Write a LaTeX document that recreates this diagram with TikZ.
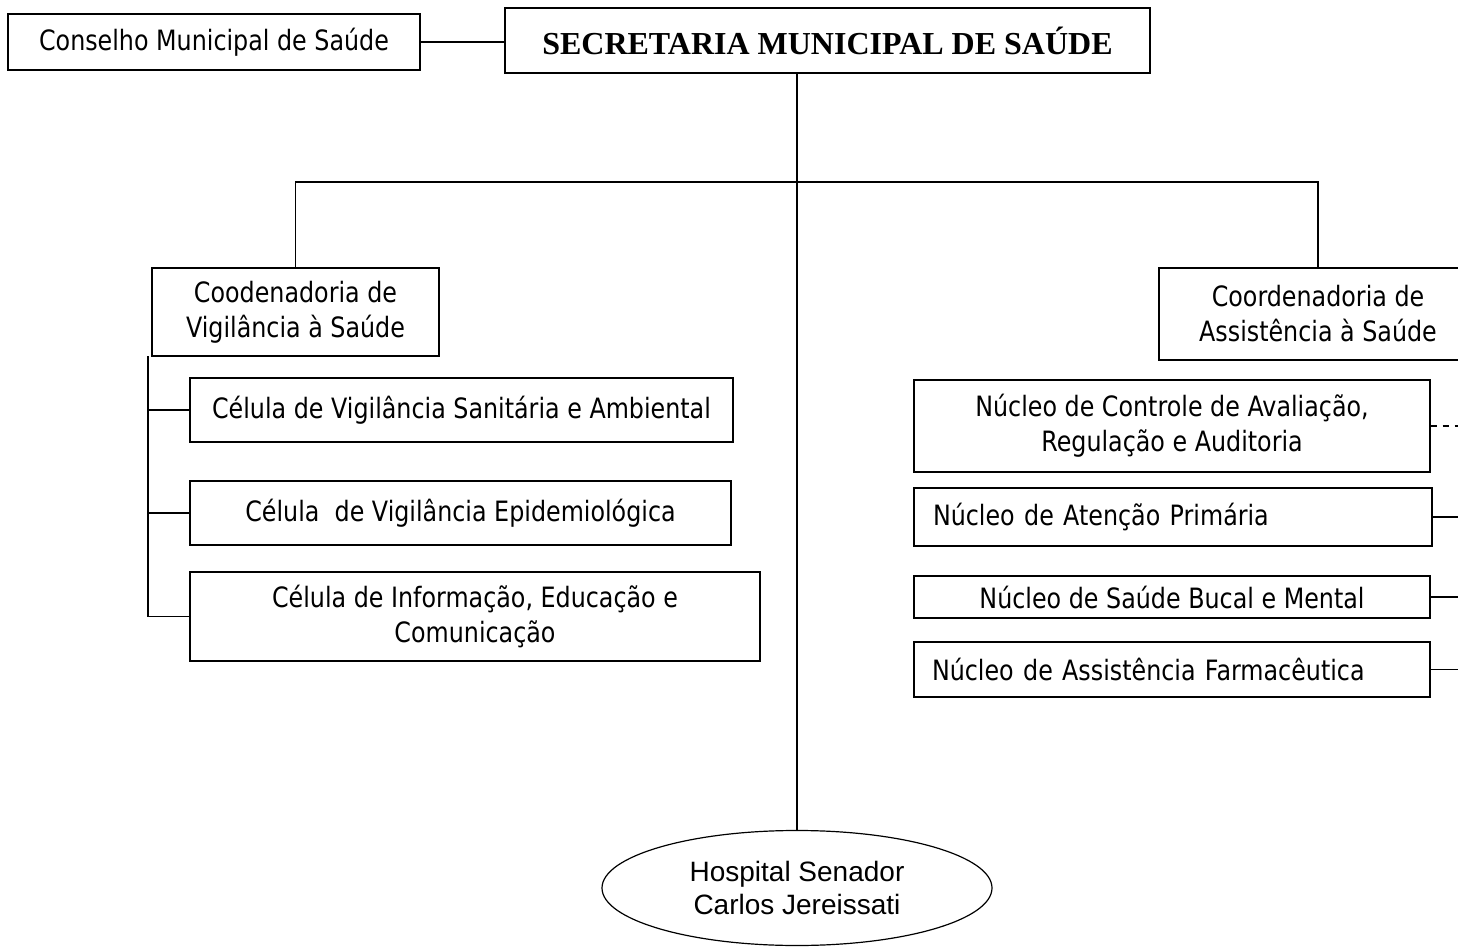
\documentclass[tikz,border=0pt]{standalone}
\usepackage{fontspec}
\setmainfont{DejaVu Sans}[FakeStretch=0.85]
\newfontfamily\titlefont{Liberation Serif}
\newfontfamily\hospfont{Liberation Sans}
\usetikzlibrary{shapes.geometric}

\begin{document}
\begin{tikzpicture}[x=0.5pt, y=-0.5pt, line width=0.6pt,
  box/.style={draw, inner sep=0pt, align=center, font=\fontsize{14}{17.5}\selectfont},
  leftbox/.style={box, text width=240pt, align=left}]
  \useasboundingbox (0,0) rectangle (1458,947);

  \node (CMS) [box, minimum width=206pt, minimum height=28pt] at (214,42) {Conselho Municipal de Saúde};
  \node (SMS) [box, minimum width=322.5pt, minimum height=32.5pt, font=\titlefont\bfseries\fontsize{16}{19}\selectfont] at (827.5,40.5) {SECRETARIA MUNICIPAL DE SAÚDE};

  \node (CVS) [box, minimum width=143.5pt, minimum height=44pt] at (295.5,312) {Coodenadoria de\\Vigilância à Saúde};
  \node (CAS) [box, minimum width=159pt, minimum height=46pt] at (1318,314) {Coordenadoria de\\Assistência à Saúde};

  \node (V1) [box, minimum width=271.5pt, minimum height=32pt] at (461.5,410) {Célula de Vigilância Sanitária e Ambiental};
  \node (V2) [box, minimum width=270.5pt, minimum height=32pt] at (460.5,513) {Célula \ de Vigilância Epidemiológica};
  \node (V3) [box, minimum width=285pt, minimum height=44.5pt] at (475,616.5) {Célula de Informação, Educação e\\Comunicação};

  \node (N1) [box, minimum width=258pt, minimum height=46pt] at (1172,426) {Núcleo de Controle de Avaliação,\\Regulação e Auditoria};
  \node (N2) [leftbox, minimum width=259pt, minimum height=29pt] at (1173,517) {Núcleo de Atenção Primária};
  \node (N3) [box, minimum width=258pt, minimum height=21pt] at (1172,597) {Núcleo de Saúde Bucal e Mental};
  \node (N4) [leftbox, minimum width=258pt, minimum height=27.5pt] at (1172,669.5) {Núcleo de Assistência Farmacêutica};

  \node (H) [draw, ellipse, inner sep=0pt, minimum width=195pt, minimum height=57.5pt, align=center,
    font=\hospfont\fontsize{14}{16.5}\selectfont] at (797,888) {Hospital Senador\\Carlos Jereissati};

  \coordinate (bus) at (797,182);
  \coordinate (lv) at (148,356);
  \coordinate (rv) at (1490,360);

  \draw (CMS) -- (CMS -| SMS.west);
  \draw (H.north |- SMS.south) -- (H.north);
  \draw (CVS.north) |- (bus) -| (CAS.north);

  \draw (lv) |- (V3.west);
  \foreach \v in {V1,V2}
    \draw (lv |- \v.west) -- (\v.west);

  \draw[dashed] (N1.east) -- (rv |- N1.east);
  \foreach \n in {N2,N3,N4}
    \draw (\n.east) -- (rv |- \n.east);
\end{tikzpicture}
\end{document}
